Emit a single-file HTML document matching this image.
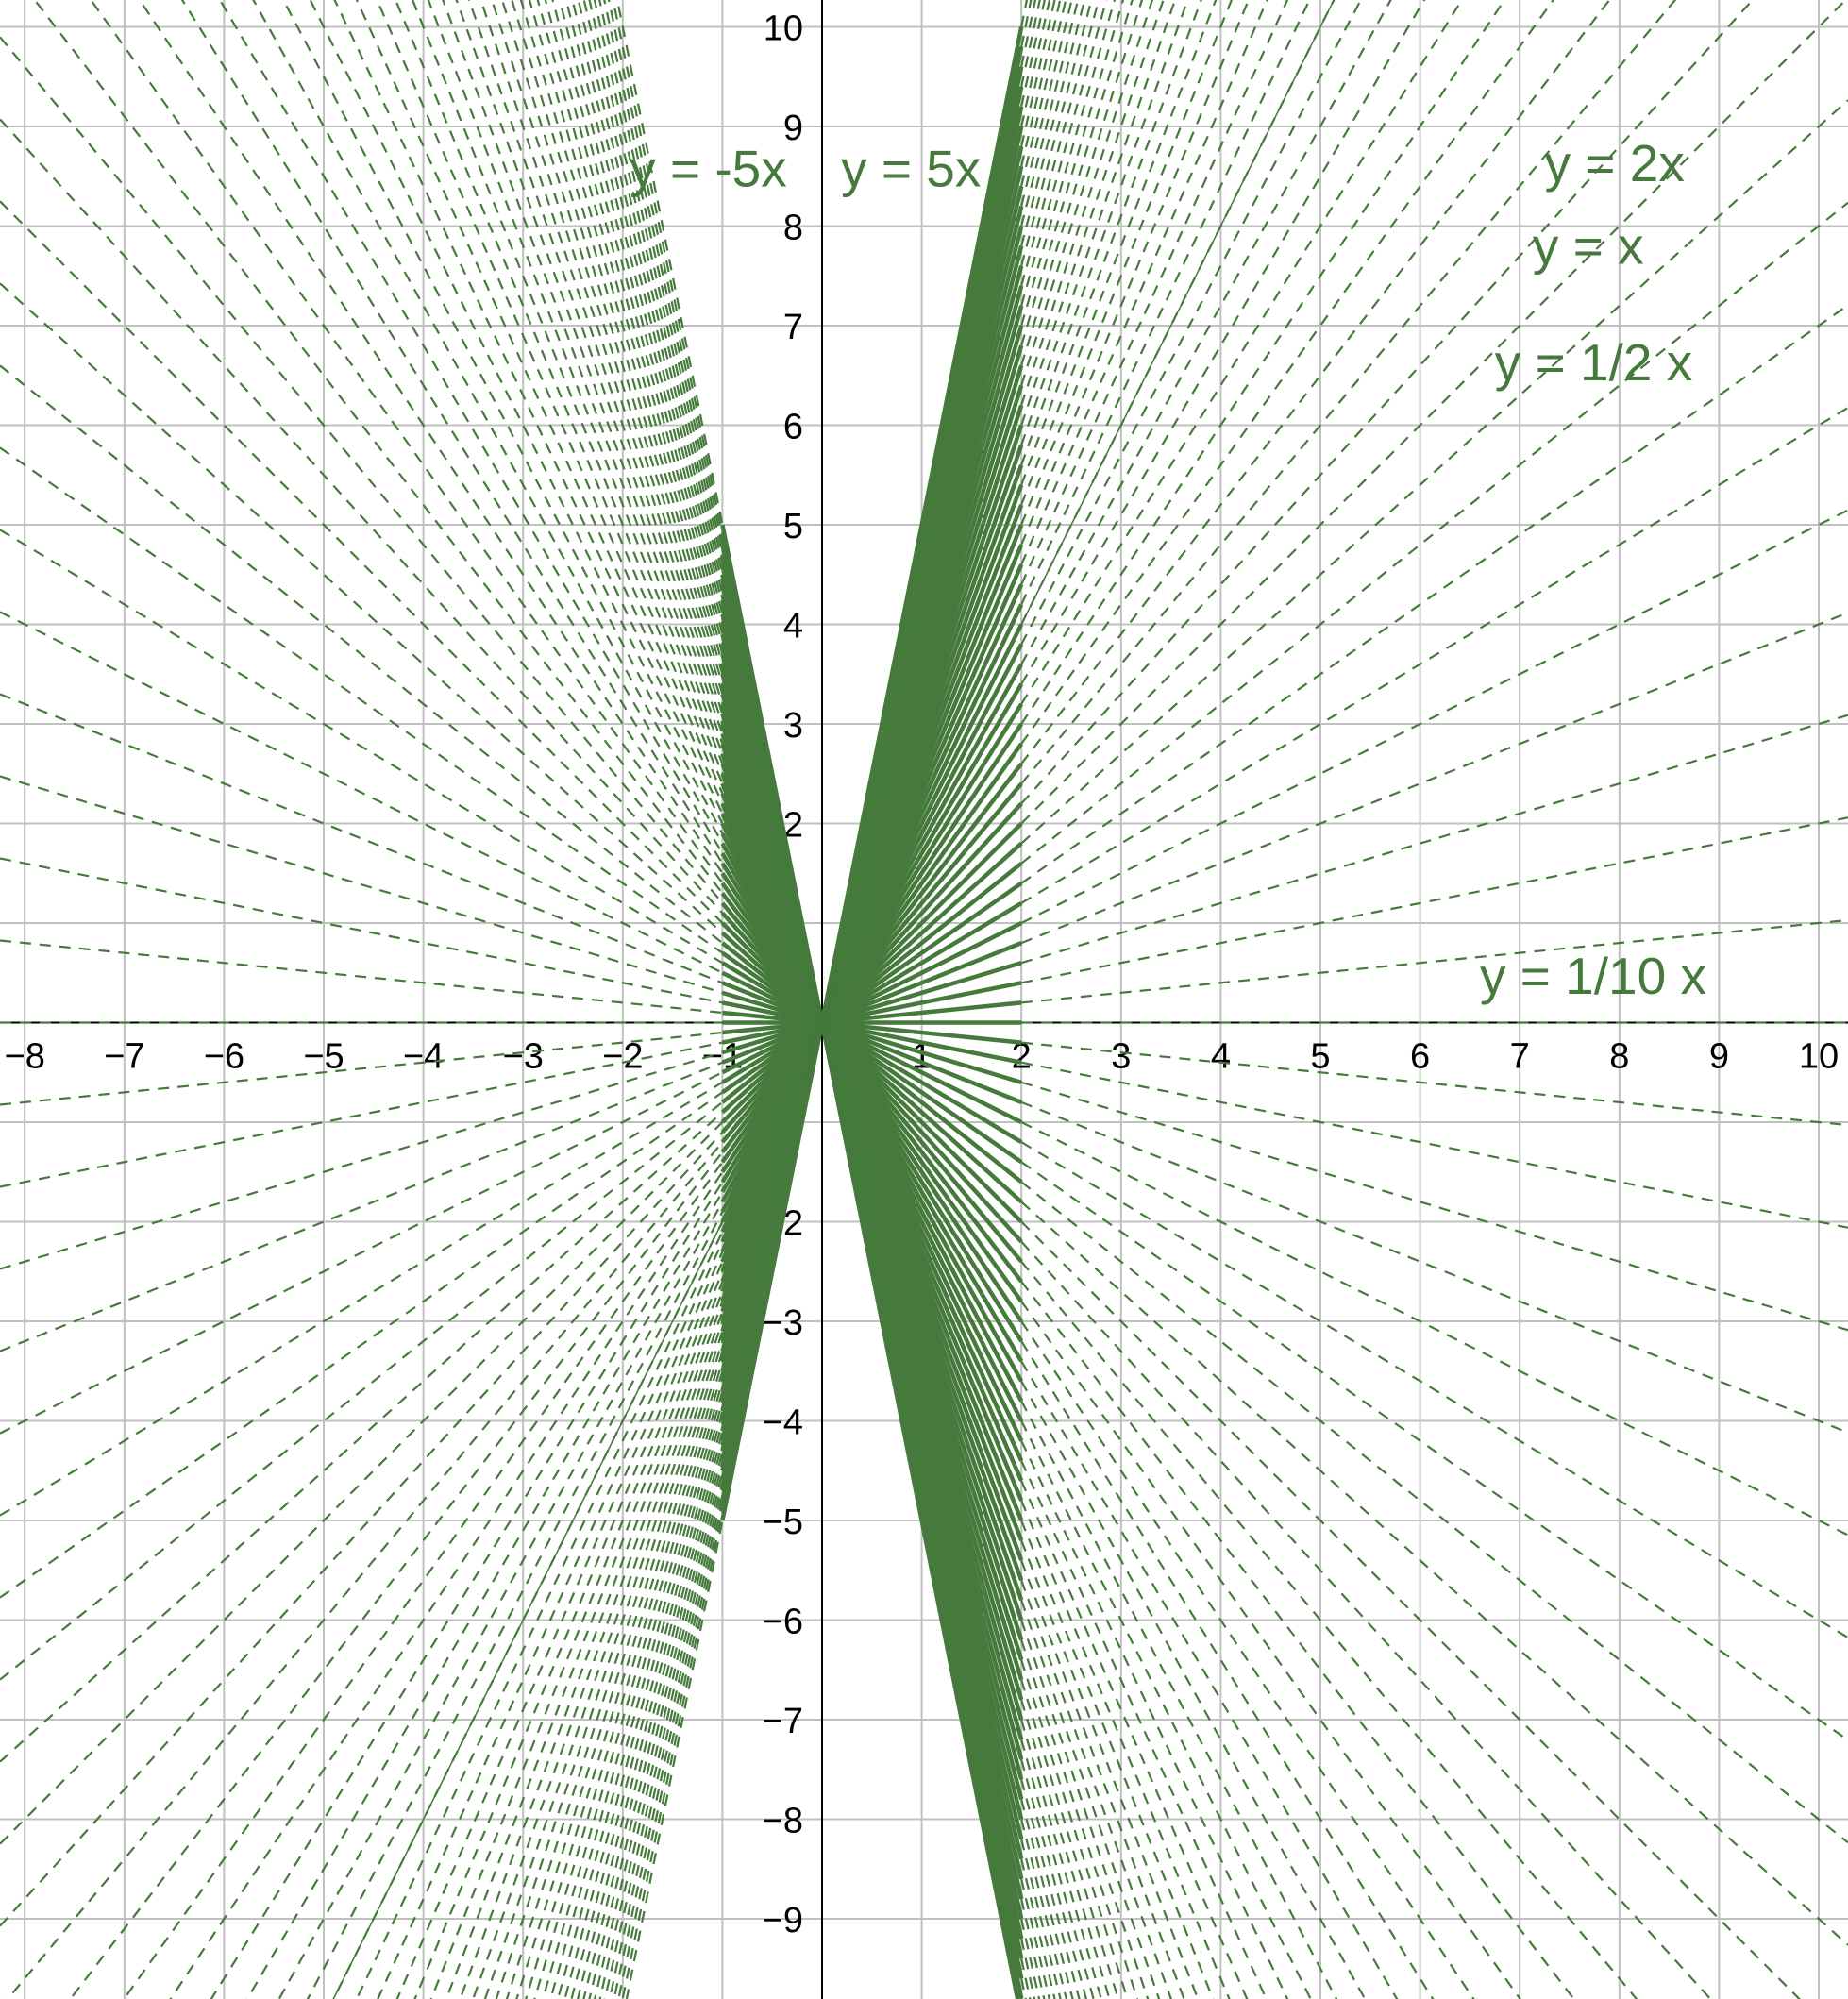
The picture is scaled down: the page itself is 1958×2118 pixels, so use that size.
<!DOCTYPE html>
<html><head><meta charset="utf-8"><style>
html,body{margin:0;padding:0;background:#fff;overflow:hidden;width:1958px;height:2118px;}
svg{display:block;font-family:"Liberation Sans",sans-serif;}
</style></head><body>
<svg id="chart" width="1958" height="2118" viewBox="0 0 1958 2118">
<g id="grid"></g>
<g id="ticks"></g>
<g id="lines"></g>
<g id="labels"></g>
</svg>
<script>
const slopes = [-5,-4.9,-4.8,-4.7,-4.6,-4.5,-4.4,-4.3,-4.2,-4.1,-4,-3.9,-3.8,-3.7,-3.6,-3.5,-3.4,-3.3,-3.2,-3.1,-3,-2.9,-2.8,-2.7,-2.6,-2.5,-2.4,-2.3,-2.2,-2.1,-2,-1.9,-1.8,-1.7,-1.6,-1.5,-1.4,-1.3,-1.2,-1.1,-1,-0.9,-0.8,-0.7,-0.6,-0.5,-0.4,-0.3,-0.2,-0.1,0,0.1,0.2,0.3,0.4,0.5,0.6,0.7,0.8,0.9,1,1.1,1.2,1.3,1.4,1.5,1.6,1.7,1.8,1.9,2,2.1,2.2,2.3,2.4,2.5,2.6,2.7,2.8,2.9,3,3.1,3.2,3.3,3.4,3.5,3.6,3.7,3.8,3.9,4,4.1,4.2,4.3,4.4,4.5,4.6,4.7,4.8,4.9,5];
const solidRange = [-1, 2];
const xTicks = [-8,-7,-6,-5,-4,-3,-2,-1,1,2,3,4,5,6,7,8,9,10];
const yTicks = [-9,-8,-7,-6,-5,-4,-3,-2,-1,1,2,3,4,5,6,7,8,9,10];
const eqLabels = ["y = -5x","y = 5x","y = 2x","y = x","y = 1/2 x","y = 1/10 x"];
const eqPos = [[-1.93,8.4],[0.19,8.4],[7.25,8.45],[7.13,7.62],[6.75,6.45],[6.6,0.29]];
const extraLineSlope = 2;

const NS="http://www.w3.org/2000/svg";
const X0=871, UX=105.6, Y0=1083.5, UY=105.5, W=1958, H=2118;
const sx=x=>X0+x*UX, sy=y=>Y0-y*UY;
const xMin=(0-X0)/UX, xMax=(W-X0)/UX;
function mk(tag,attrs,parent){const e=document.createElementNS(NS,tag);for(const k in attrs)e.setAttribute(k,attrs[k]);parent.appendChild(e);return e;}
const G=document.getElementById('grid'),T=document.getElementById('ticks'),L=document.getElementById('lines'),LB=document.getElementById('labels');
for(let i=-9;i<=11;i++){const l=mk('line',{x1:sx(i),x2:sx(i),y1:0,y2:H,stroke:'#c0c0c0','stroke-width':2},G);

}
for(let j=-10;j<=11;j++){const l=mk('line',{y1:sy(j),y2:sy(j),x1:0,x2:W,stroke:'#c0c0c0','stroke-width':2},G);

}
const xa=mk('line',{x1:0,x2:W,y1:Y0,y2:Y0,stroke:'#000','stroke-width':2},G);


const ya=mk('line',{x1:X0,x2:X0,y1:0,y2:H,stroke:'#000','stroke-width':2},G);


xTicks.forEach(v=>{const t=mk('text',{x:sx(v),y:Y0+48,'text-anchor':'middle','font-size':38,fill:'#000'},T);t.textContent=(v<0?'\u2212':'')+Math.abs(v);

});
yTicks.forEach(v=>{const t=mk('text',{x:X0-20,y:sy(v)+14,'text-anchor':'end','font-size':38,fill:'#000'},T);t.textContent=(v<0?'\u2212':'')+Math.abs(v);

});
const C='#457a3c';
slopes.forEach(m=>{
 const d1=mk('line',{x1:sx(xMin),y1:sy(m*xMin),x2:sx(solidRange[0]),y2:sy(m*solidRange[0]),stroke:C,'stroke-width':2.2,'stroke-dasharray':'12 9'},L);
 
 
 const d2=mk('line',{x1:sx(solidRange[1]),y1:sy(m*solidRange[1]),x2:sx(xMax),y2:sy(m*xMax),stroke:C,'stroke-width':2.2,'stroke-dasharray':'12 9'},L);
 
 
 const s=mk('line',{x1:sx(solidRange[0]),y1:sy(m*solidRange[0]),x2:sx(solidRange[1]),y2:sy(m*solidRange[1]),stroke:C,'stroke-width':4.5},L);
 
 
});
const ex=mk('line',{x1:sx(xMin),y1:sy(extraLineSlope*xMin),x2:sx(xMax),y2:sy(extraLineSlope*xMax),stroke:C,'stroke-width':1.5},L);


eqLabels.forEach((s,i)=>{const t=mk('text',{x:sx(eqPos[i][0]),y:sy(eqPos[i][1]),'font-size':55,fill:C},LB);t.textContent=s;

});
</script>
</body></html>
